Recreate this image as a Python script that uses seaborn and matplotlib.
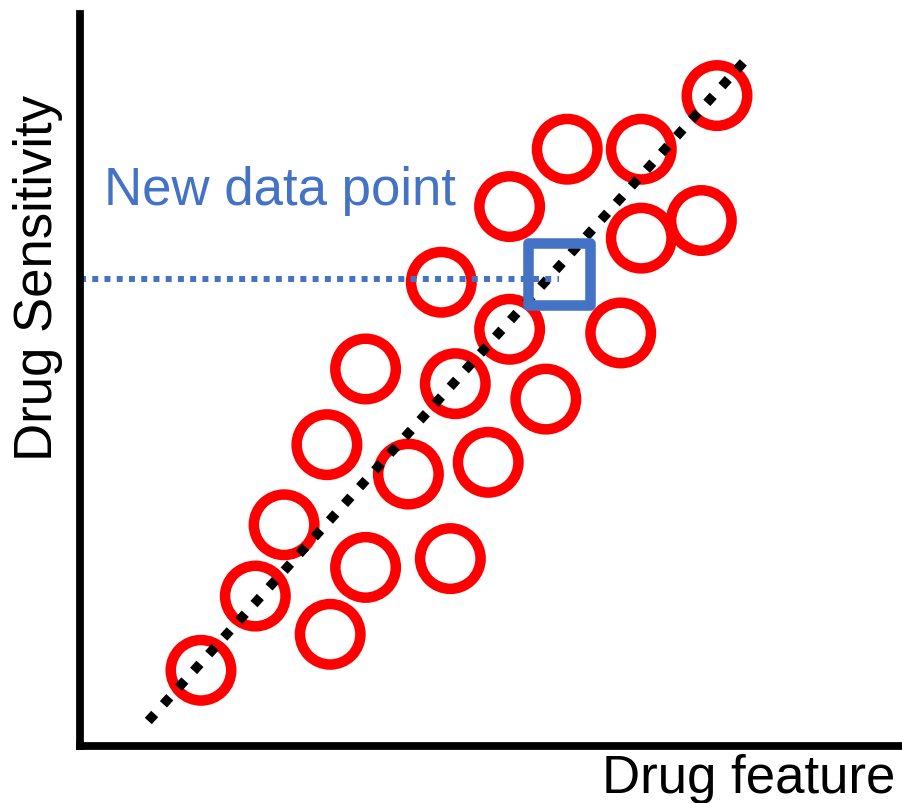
import numpy as np
import pandas as pd
import matplotlib
matplotlib.use("Agg")
import matplotlib.pyplot as plt
from matplotlib.markers import MarkerStyle
import seaborn as sns

# training points (arbitrary units, 0-100)
feature = [14.7, 21.3, 24.8, 30.4, 34.7, 30.0, 34.7, 39.9, 45.0, 45.6, 43.9,
           49.6, 52.2, 56.6, 52.2, 59.2, 68.2, 68.2, 65.7, 75.5, 77.4]
sensitivity = [10.3, 20.4, 30.1, 15.2, 24.3, 41.0, 51.3, 37.0, 25.5, 49.3, 63.1,
               38.6, 56.7, 47.2, 73.4, 81.2, 81.2, 69.1, 56.2, 71.5, 88.5]

# new data point and the read-out level
new_x = [58.2]
new_y = [64.2]
readout_y = 63.6

# fitted line end points
fit_x = [8.3, 81.4]
fit_y = [3.4, 94.0]

df = pd.DataFrame({'feature': feature, 'sensitivity': sensitivity})

sns.set_style('white')
plt.rcParams['font.family'] = ['Liberation Sans', 'DejaVu Sans']

fig = plt.figure(figsize=(9.03, 8.04), dpi=100)
ax = fig.add_axes([80 / 903, 57 / 804, 823 / 903, 732 / 804])

blue = '#4472C4'

sns.scatterplot(data=df, x='feature', y='sensitivity', ax=ax, marker='o',
                s=1897, facecolor='none', edgecolor='#FF0000', linewidth=7.56,
                zorder=1, clip_on=False)

ax.plot(fit_x, fit_y, color='black', lw=6.84, linestyle=(0, (1.0, 1.37)),
        zorder=2, clip_on=False)
ax.plot([0, new_x[0]], [readout_y, readout_y], color=blue, lw=4.3,
        linestyle=(0, (1.0, 1.05)), zorder=2.5)

sns.scatterplot(x=new_x, y=new_y, ax=ax,
                marker=MarkerStyle('s', joinstyle='round'), s=1954,
                facecolor='none', edgecolor=blue, linewidth=7.6,
                joinstyle='round', zorder=3, clip_on=False)

ax.text(2.9, 73.74, 'New data point', color=blue, fontsize=38, va='baseline')

ax.set_xlim(0, 100)
ax.set_ylim(0, 99.6)
ax.set_xticks([])
ax.set_yticks([])
for side in ['top', 'right']:
    ax.spines[side].set_visible(False)
for side in ['left', 'bottom']:
    ax.spines[side].set_linewidth(5.6)
    ax.spines[side].set_color('black')

ax.set_xlabel('Drug feature', fontsize=38, color='black', loc='right',
              va='baseline')
ax.xaxis.set_label_coords(0.9903, -0.0626)
ax.set_ylabel('Drug Sensitivity', fontsize=38, color='black', va='baseline')
ax.yaxis.set_label_coords(-0.034, 0.6413)

fig.savefig('out.png', dpi=100)
